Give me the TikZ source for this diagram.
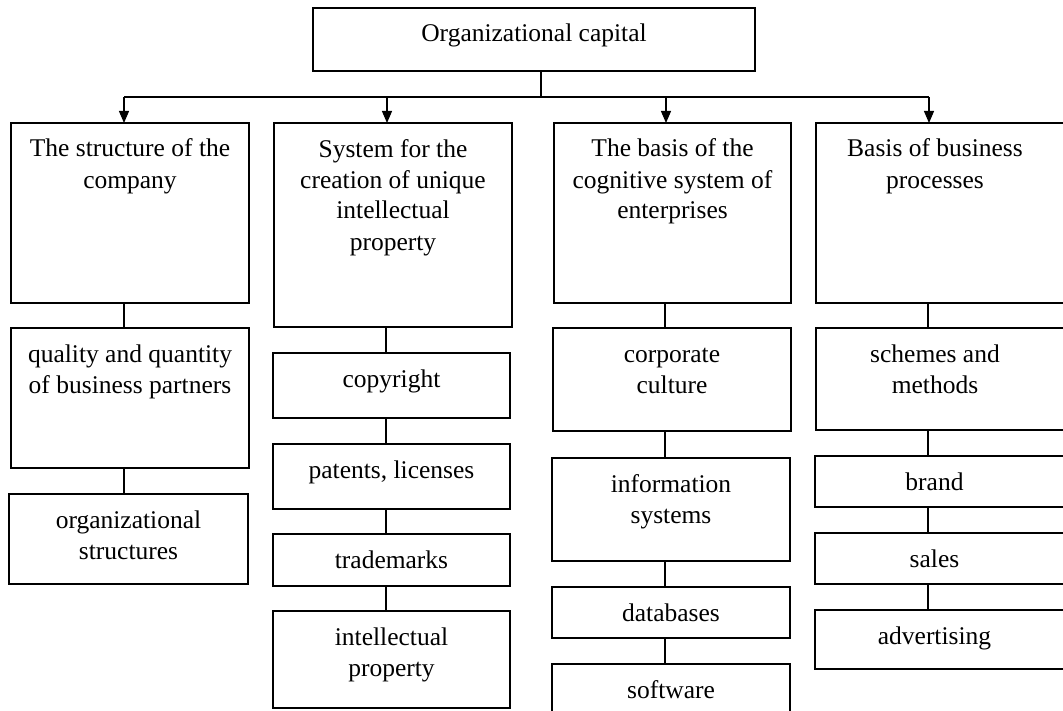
\documentclass[tikz,border=0pt]{standalone}
\usepackage{fontspec}
\setmainfont{Liberation Serif}
\usetikzlibrary{arrows.meta}
\newcommand\bxtext[3]{\parbox[b][#2pt][t]{#1pt}{\centering\rule{0pt}{34pt}#3}}
\newcommand\bxoff[4]{\parbox[b][#2pt][t]{#1pt}{\parbox[t]{#3pt}{\centering\rule{0pt}{34pt}#4}}}
\tikzset{
  box/.style={draw, line width=1.2pt, inner sep=0pt, outer sep=0pt, anchor=north west,
              font=\fontsize{25.5}{31}\selectfont},
  link/.style={line width=1.2pt},
  arr/.style={line width=1.2pt, -{Triangle[length=12pt,width=10pt]}}
}
\begin{document}
\begin{tikzpicture}[x=1pt,y=1pt]
\clip (0,0) rectangle (1063,-711);
\fill[white] (0,0) rectangle (1063,-711);
% top
\node[box] (top) at (313,-8) {\bxtext{442}{63}{Organizational capital}};
% column 1
\node[box] (c1a) at (11,-123) {\bxtext{238}{180}{The structure of the\\company}};
\node[box] (c1b) at (11,-328) {\bxtext{238}{140}{quality and quantity\\of business partners}};
\node[box] (c1c) at (9,-494) {\bxtext{239}{90}{organizational\\structures}};
% column 2
\node[box] (c2a) at (274,-123) {\bxtext{238}{204}{System for the\\creation of unique\\intellectual\\property}};
\node[box] (c2b) at (273,-353) {\bxtext{237}{65}{copyright}};
\node[box] (c2c) at (273,-444) {\bxtext{237}{65}{patents, licenses}};
\node[box] (c2d) at (273,-534) {\bxtext{237}{52}{trademarks}};
\node[box] (c2e) at (273,-611) {\bxtext{237}{97}{intellectual\\property}};
% column 3
\node[box] (c3a) at (554,-123) {\bxtext{237}{180}{The basis of the\\cognitive system of\\enterprises}};
\node[box] (c3b) at (553,-328) {\bxtext{238}{103}{corporate\\culture}};
\node[box] (c3c) at (552,-458) {\bxtext{238}{103}{information\\systems}};
\node[box] (c3d) at (552,-587) {\bxtext{238}{51}{databases}};
\node[box] (c3e) at (552,-664) {\bxtext{238}{60}{software}};
% column 4
\node[box] (c4a) at (816,-123) {\bxoff{250}{180}{238}{Basis of business\\processes}};
\node[box] (c4b) at (816,-328) {\bxoff{250}{102}{238}{schemes and\\methods}};
\node[box] (c4c) at (815,-456) {\bxoff{251}{51}{239}{brand}};
\node[box] (c4d) at (815,-533) {\bxoff{251}{51}{239}{sales}};
\node[box] (c4e) at (815,-610) {\bxoff{251}{59}{239}{advertising}};
% bus
\coordinate (j0) at (541,-97);
\coordinate (a1) at (124,-97);
\coordinate (a2) at (387,-97);
\coordinate (a3) at (666,-97);
\coordinate (a4) at (929,-97);
\draw[link] (j0 |- top.south) -- (j0);
\draw[link] (a1) -- (a4);
\draw[arr] (a1) -- (a1 |- c1a.north);
\draw[arr] (a2) -- (a2 |- c2a.north);
\draw[arr] (a3) -- (a3 |- c3a.north);
\draw[arr] (a4) -- (a4 |- c4a.north);
% column links
\coordinate (x1) at (124,0);
\coordinate (x2) at (386,0);
\coordinate (x3) at (665,0);
\coordinate (x4) at (928,0);
\draw[link] (x1 |- c1a.south) -- (x1 |- c1b.north);
\draw[link] (x1 |- c1b.south) -- (x1 |- c1c.north);
\draw[link] (x2 |- c2a.south) -- (x2 |- c2b.north);
\draw[link] (x2 |- c2b.south) -- (x2 |- c2c.north);
\draw[link] (x2 |- c2c.south) -- (x2 |- c2d.north);
\draw[link] (x2 |- c2d.south) -- (x2 |- c2e.north);
\draw[link] (x3 |- c3a.south) -- (x3 |- c3b.north);
\draw[link] (x3 |- c3b.south) -- (x3 |- c3c.north);
\draw[link] (x3 |- c3c.south) -- (x3 |- c3d.north);
\draw[link] (x3 |- c3d.south) -- (x3 |- c3e.north);
\draw[link] (x4 |- c4a.south) -- (x4 |- c4b.north);
\draw[link] (x4 |- c4b.south) -- (x4 |- c4c.north);
\draw[link] (x4 |- c4c.south) -- (x4 |- c4d.north);
\draw[link] (x4 |- c4d.south) -- (x4 |- c4e.north);
\end{tikzpicture}
\end{document}
